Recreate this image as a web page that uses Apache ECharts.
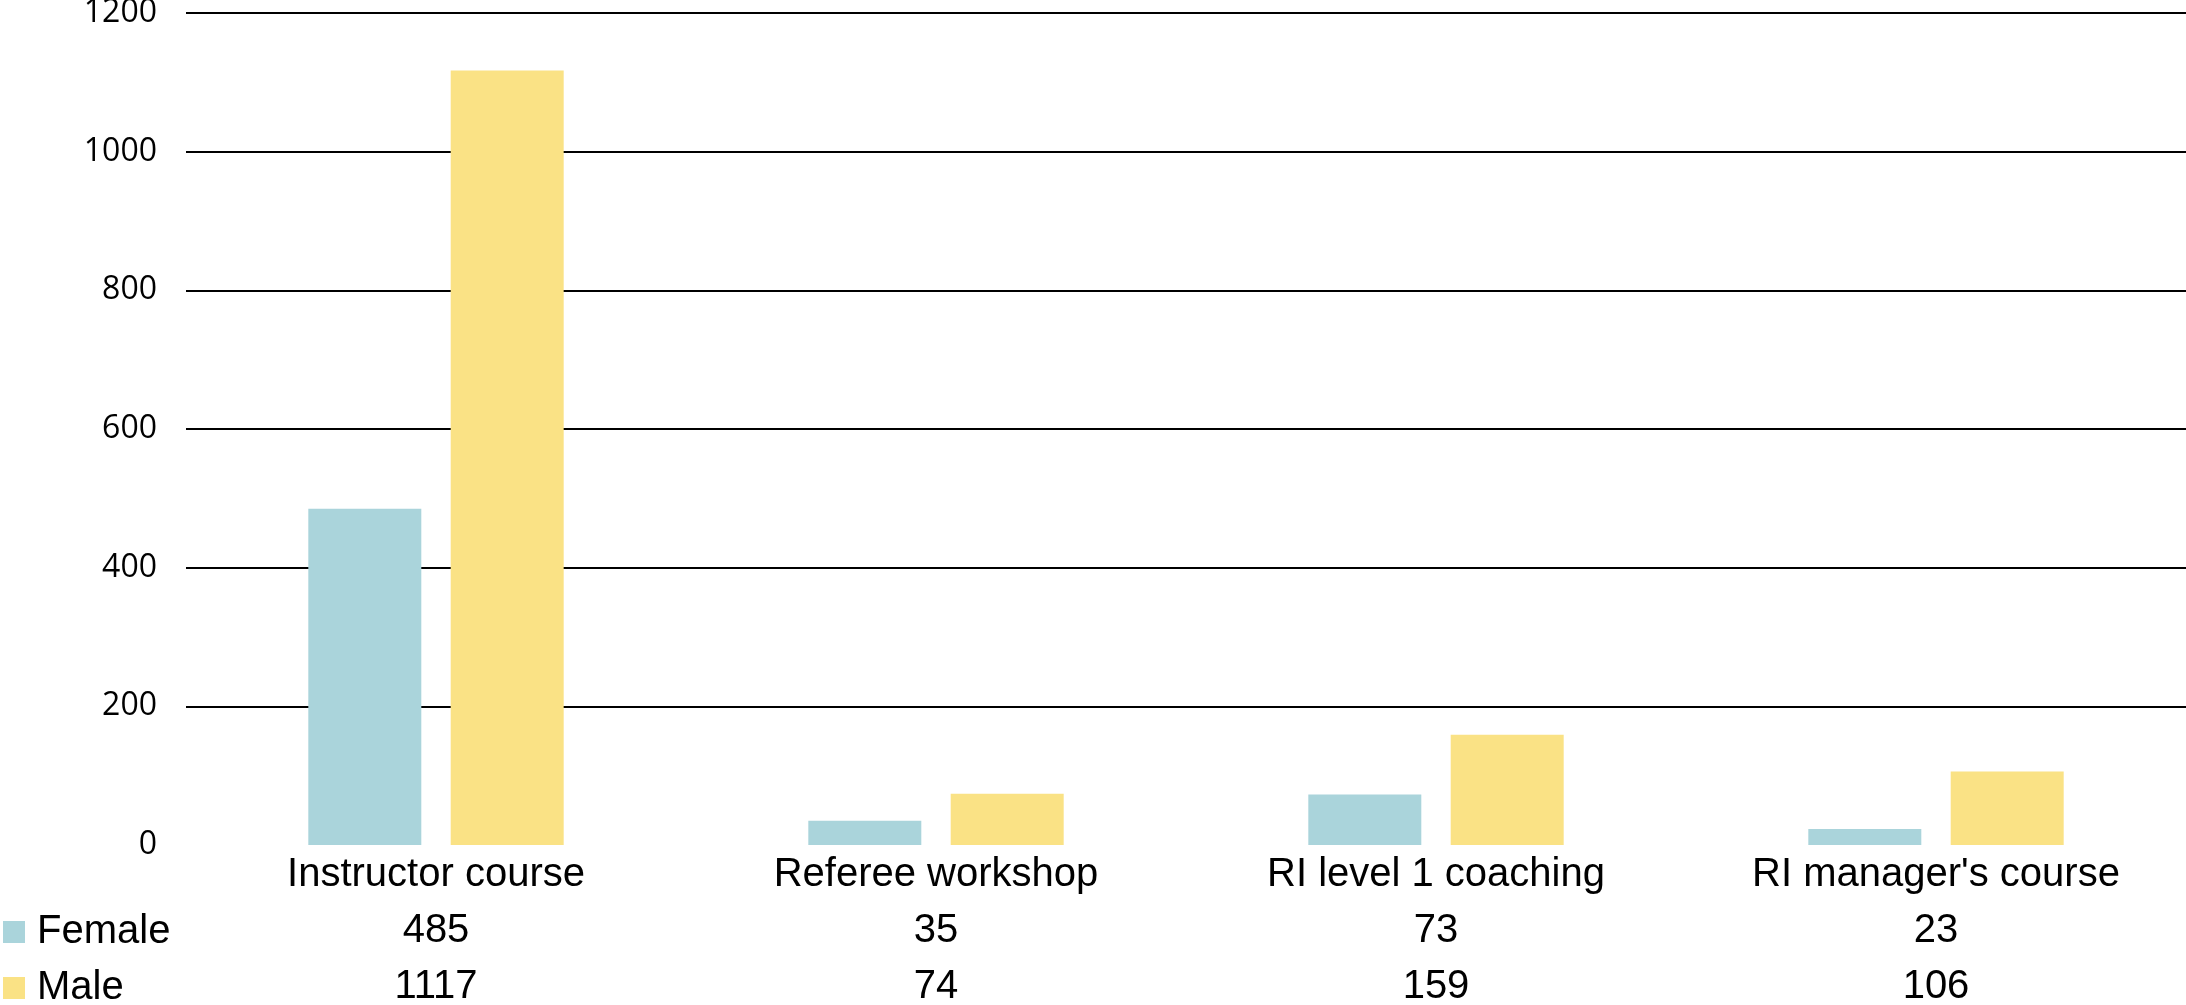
<!DOCTYPE html>
<html>
<head>
<meta charset="utf-8">
<script src="https://cdn.jsdelivr.net/npm/echarts@6/dist/echarts.min.js"></script>
<style>
  html, body { margin: 0; padding: 0; background: #fff; }
  #root { width: 2186px; height: 1005px; }
</style>
</head>
<body>
<div id="root"></div>
<script>
// course data
var categories = ['Instructor course', 'Referee workshop', 'RI level 1 coaching', "RI manager's course"];
var female = [485, 35, 73, 23];
var male = [1117, 74, 159, 106];
var yTicks = [0, 200, 400, 600, 800, 1000, 1200];

var FONT = '"Liberation Sans", Arial, sans-serif';
var AXIS_FONT = '"Open Sans", "Liberation Sans", sans-serif';
var BLUE = '#AAD4DB';
var YELLOW = '#FAE285';

var chart = echarts.init(document.getElementById('root'));

// x labels carry the data table underneath (category / female / male)
function tableLabel(value, idx) {
    return value + '\n' + female[idx] + '\n' + male[idx];
}

var option = {
    animation: false,
    textStyle: { fontFamily: FONT },
    grid: {
        left: 186, right: 0, top: 13, bottom: 1005 - 845,
        containLabel: false, outerBoundsMode: 'none'
    },
    legend: [
        {
            data: ['Female'], left: 3, top: 912, padding: 0,
            icon: 'rect', itemWidth: 22, itemHeight: 22,
            textStyle: { fontSize: 40, color: '#000', fontFamily: FONT, padding: [0, 0, 0, 7] }
        },
        {
            data: ['Male'], left: 3, top: 968, padding: 0,
            icon: 'rect', itemWidth: 22, itemHeight: 22,
            textStyle: { fontSize: 40, color: '#000', fontFamily: FONT, padding: [0, 0, 0, 7] }
        }
    ],
    xAxis: {
        type: 'category',
        data: categories,
        axisLine: { show: false },
        axisTick: { show: false },
        axisLabel: {
            interval: 0,
            margin: 2,
            color: '#000',
            fontSize: 40,
            lineHeight: 56,
            fontFamily: FONT,
            formatter: tableLabel
        }
    },
    yAxis: {
        type: 'value',
        min: yTicks[0],
        max: yTicks[yTicks.length - 1],
        interval: 200,
        axisLine: { show: false },
        axisTick: { show: false },
        axisLabel: {
            color: '#000', fontSize: 32, margin: 29, fontFamily: AXIS_FONT,
            formatter: function (v) { return String(v); }
        },
        splitLine: { showMinLine: false, lineStyle: { color: '#000', width: 2 } }
    },
    series: [
        {
            name: 'Female', type: 'bar', data: female,
            barWidth: 113, barGap: '26%',
            itemStyle: { color: BLUE }
        },
        {
            name: 'Male', type: 'bar', data: male,
            barWidth: 113,
            itemStyle: { color: YELLOW }
        }
    ]
};
chart.setOption(option);
</script>
</body>
</html>
